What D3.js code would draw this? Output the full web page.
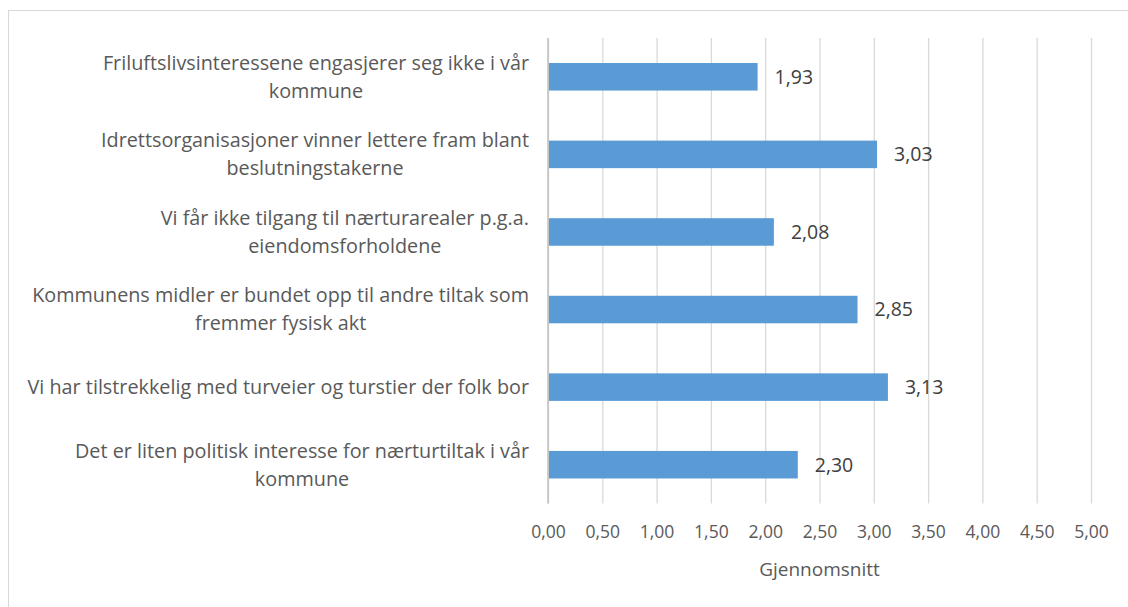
<!DOCTYPE html>
<html>
<head>
<meta charset="utf-8">
<script src="https://cdn.jsdelivr.net/npm/d3@7"></script>
<style>
  html, body { margin: 0; padding: 0; background: #fff; }
  svg { display: block; }
  text { font-family: "Open Sans", "Liberation Sans", sans-serif; }
</style>
</head>
<body>
<svg id="chart" width="1128" height="607"></svg>
<script>
// Category labels (top to bottom), each split into display lines
const categories = [
  ["Friluftslivsinteressene engasjerer seg ikke i vår", "kommune"],
  ["Idrettsorganisasjoner vinner lettere fram blant", "beslutningstakerne"],
  ["Vi får ikke tilgang til nærturarealer p.g.a.", "eiendomsforholdene"],
  ["Kommunens midler er bundet opp til andre tiltak som", "fremmer fysisk akt"],
  ["Vi har tilstrekkelig med turveier og turstier der folk bor"],
  ["Det er liten politisk interesse for nærturtiltak i vår", "kommune"]
];
const values = [1.93, 3.03, 2.08, 2.85, 3.13, 2.30];
const tickValues = [0, 0.5, 1, 1.5, 2, 2.5, 3, 3.5, 4, 4.5, 5];
const axisTitle = "Gjennomsnitt";

const fmt = v => v.toFixed(2).replace(".", ",");

const svg = d3.select("#chart");

// outer chart frame
svg.append("rect")
  .attr("x", 8.5).attr("y", 10.5)
  .attr("width", 1140).attr("height", 620)
  .attr("fill", "none").attr("stroke", "#d9d9d9").attr("stroke-width", 1);

const plot = { left: 548, right: 1091, top: 38, bottom: 503.5 };

const x = d3.scaleLinear().domain([0, 5]).range([plot.left, plot.right]);
const y = d3.scaleBand()
  .domain(d3.range(categories.length))
  .range([plot.top, plot.bottom])
  .paddingInner(0.645).paddingOuter(0.3225);

// vertical gridlines
const xAxis = d3.axisBottom(x).tickValues(tickValues).tickSize(-(plot.bottom - plot.top)).tickFormat(fmt).tickPadding(22);
const gx = svg.append("g").attr("transform", `translate(0,${plot.bottom})`).call(xAxis);
gx.select(".domain").remove();
gx.selectAll(".tick line").attr("stroke", "#d9d9d9").attr("stroke-width", 1.3);
gx.selectAll(".tick text")
  .attr("fill", "#595959").attr("font-size", 17.5)
  .style("font-family", '"Open Sans", "Liberation Sans", sans-serif');
// category axis line at zero
svg.append("line")
  .attr("x1", x(0)).attr("x2", x(0))
  .attr("y1", plot.top).attr("y2", plot.bottom)
  .attr("stroke", "#bfbfbf").attr("stroke-width", 1.5);

// bars
svg.append("g").selectAll("rect").data(values).join("rect")
  .attr("x", x(0) + 1)
  .attr("y", (d, i) => y(i))
  .attr("width", d => x(d) - x(0) - 1)
  .attr("height", y.bandwidth())
  .attr("fill", "#5b9bd5");

// value labels
svg.append("g").selectAll("text").data(values).join("text")
  .attr("x", d => x(d) + 17)
  .attr("y", (d, i) => y(i) + y.bandwidth() / 2)
  .attr("dy", "0.35em")
  .attr("fill", "#404040").attr("font-size", 19.5)
  .text(fmt);

// category labels: block right-aligned, lines centred within block
const labelRight = 529;
const lineGap = 28;
const lg = svg.append("g");
categories.forEach((lines, i) => {
  const cy = y(i) + y.bandwidth() / 2;
  const g = lg.append("g");
  const texts = lines.map((ln, j) => g.append("text")
    .attr("y", cy + (j - (lines.length - 1) / 2) * lineGap)
    .attr("dy", "0.35em")
    .attr("fill", "#595959").attr("font-size", 19.8)
    .attr("text-anchor", "middle")
    .text(ln));
  const maxW = d3.max(texts, t => t.node().getComputedTextLength());
  texts.forEach(t => t.attr("x", labelRight - maxW / 2));
});

// axis title
svg.append("text")
  .attr("x", (plot.left + plot.right) / 2)
  .attr("y", 576)
  .attr("text-anchor", "middle")
  .attr("fill", "#595959").attr("font-size", 19)
  .text(axisTitle);
</script>
</body>
</html>
